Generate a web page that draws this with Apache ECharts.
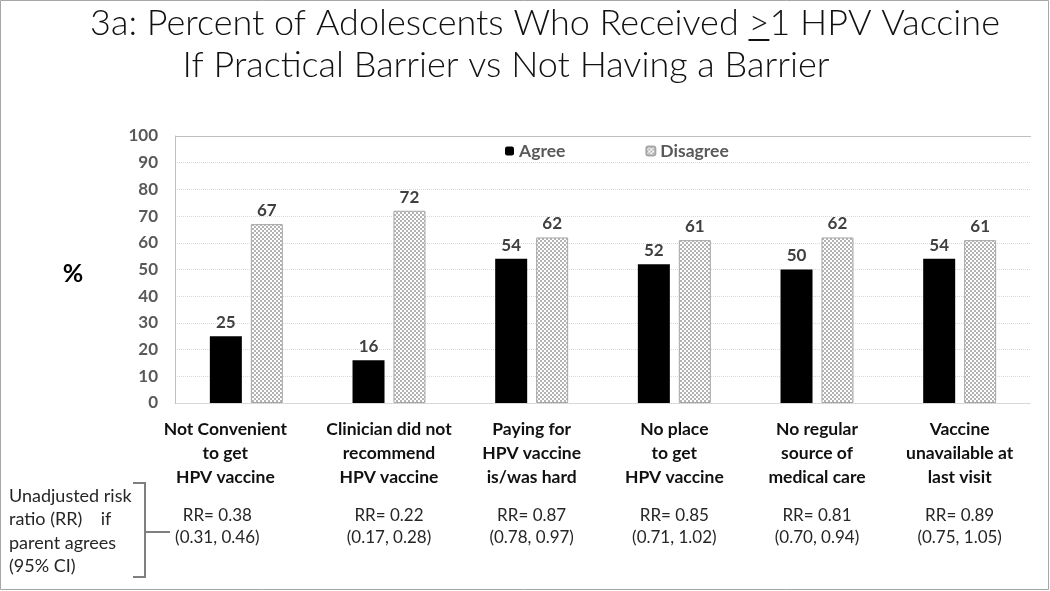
<!DOCTYPE html>
<html><head><meta charset="utf-8">
<script src="https://cdn.jsdelivr.net/npm/echarts@6/dist/echarts.min.js"></script>
<style>html,body{margin:0;padding:0;background:#fff}#c{width:1050px;height:591px}</style>
</head><body><div id="c"></div>
<script>
const categories = [
  'Not Convenient\nto get\nHPV vaccine',
  'Clinician did not\nrecommend\nHPV vaccine',
  'Paying for\nHPV vaccine\nis/was hard',
  'No place\nto get\nHPV vaccine',
  'No regular\nsource of\nmedical care',
  'Vaccine\nunavailable at\nlast visit'
];
const agree = [25, 16, 54, 52, 50, 54];
const disagree = [67, 72, 62, 61, 62, 61];
const rrLabels = ['RR= 0.38', 'RR= 0.22', 'RR= 0.87', 'RR= 0.85', 'RR= 0.81', 'RR= 0.89'];
const ciLabels = ['(0.31, 0.46)', '(0.17, 0.28)', '(0.78, 0.97)', '(0.71, 1.02)', '(0.70, 0.94)', '(0.75, 1.05)'];
const yTicks = {min: 0, max: 100, interval: 10};
const titlePre = '3a: Percent of Adolescents Who Received ';
const titleGe = '>';
const titlePost = '1 HPV Vaccine';
const titleLine2 = 'If Practical Barrier vs Not Having a Barrier';
const sideNote = 'Unadjusted risk\nratio (RR)    if\nparent agrees\n(95% CI)';

const FONT = 'Lato, "Open Sans", sans-serif';
const TITLE_FONT = '300 36px Lato';

// checkered fill for the Disagree bars
const pc = document.createElement('canvas');
pc.width = 4; pc.height = 4;
const px = pc.getContext('2d');
px.fillStyle = '#ffffff'; px.fillRect(0, 0, 4, 4);
px.fillStyle = '#b3b3b3'; px.fillRect(0, 0, 2, 2); px.fillRect(2, 2, 2, 2);
const pattern = {image: pc, repeat: 'repeat'};

// measure title to place the underline of ">" (i.e. "≥")
const mc = document.createElement('canvas').getContext('2d');
mc.font = TITLE_FONT;
const titleLine1 = titlePre + titleGe + titlePost;
const t1W = mc.measureText(titleLine1).width;
const preW = mc.measureText(titlePre).width;
const geW = mc.measureText(titleGe).width;
const T1X = 545, T1Y = 23;

// per-category label nudges (first category's text box sits left of its bars)
const rich = {
  g: {fontSize: 10, lineHeight: 16},
  b: {fontFamily: FONT, fontSize: 17.5, fontWeight: 'bold', color: '#111', lineHeight: 24},
  n: {fontFamily: FONT, fontSize: 17, fontWeight: 'normal', color: '#262626', lineHeight: 22},
  b0: {fontFamily: FONT, fontSize: 17.5, fontWeight: 'bold', color: '#111', lineHeight: 24, padding: [0, 42, 0, 0]},
  n0: {fontFamily: FONT, fontSize: 17, fontWeight: 'normal', color: '#262626', lineHeight: 22, padding: [0, 58, 0, 0]}
};

const chart = echarts.init(document.getElementById('c'));
chart.setOption({
  animation: false,
  textStyle: {fontFamily: FONT},
  grid: {left: 175, right: 19, top: 136, bottom: 188, containLabel: false},
  legend: {
    left: 500, top: 137, itemWidth: 9, itemHeight: 9, itemGap: 80,
    textStyle: {fontFamily: FONT, fontSize: 17.5, fontWeight: 'bold', color: '#595959'},
    data: ['Agree', 'Disagree']
  },
  xAxis: {
    type: 'category', data: categories,
    axisLine: {show: true, lineStyle: {color: '#d0d0d0', type: 'dotted'}},
    axisTick: {show: false},
    axisLabel: {
      interval: 0, margin: 14, color: '#111',
      formatter: function (v, i) {
        const bs = i === 0 ? 'b0' : 'b';
        const ns = i === 0 ? 'n0' : 'n';
        const lines = v.split('\n').map(s => '{' + bs + '|' + s + '}');
        return lines.join('\n') + '\n{g| }\n{' + ns + '|' + rrLabels[i] + '}\n{' + ns + '|' + ciLabels[i] + '}';
      },
      rich: rich
    }
  },
  yAxis: {
    type: 'value', min: yTicks.min, max: yTicks.max, interval: yTicks.interval,
    axisLine: {show: true, lineStyle: {color: '#bfbfbf'}},
    axisTick: {show: false},
    axisLabel: {margin: 17, fontFamily: FONT, fontSize: 17, fontWeight: 'bold', color: '#595959'},
    splitLine: {show: true, lineStyle: {color: '#d9d9d9', type: 'dotted'}}
  },
  series: [
    {
      name: 'Agree', type: 'bar', data: agree, barWidth: 32, barGap: '28%',
      itemStyle: {color: '#000'},
      label: {show: true, position: 'top', distance: 5, fontFamily: FONT, fontSize: 17, fontWeight: 'bold', color: '#404040'},
      markLine: {
        silent: true, symbol: 'none', label: {show: false},
        lineStyle: {color: '#bfbfbf', type: 'solid', width: 1},
        data: [{yAxis: yTicks.max}]
      }
    },
    {
      name: 'Disagree', type: 'bar', data: disagree, barWidth: 32,
      itemStyle: {color: pattern, borderColor: '#a6a6a6', borderWidth: 1},
      label: {show: true, position: 'top', distance: 5, fontFamily: FONT, fontSize: 17, fontWeight: 'bold', color: '#404040'}
    }
  ],
  graphic: [
    {type: 'rect', shape: {x: 0.5, y: 0.5, width: 1048, height: 589}, style: {fill: 'none', stroke: '#a6a6a6', lineWidth: 1}},
    {type: 'text', x: T1X, y: T1Y, style: {text: titleLine1, align: 'center', verticalAlign: 'middle', font: TITLE_FONT, fill: '#111'}},
    {type: 'line', shape: {x1: T1X - t1W / 2 + preW, y1: T1Y + 17, x2: T1X - t1W / 2 + preW + geW, y2: T1Y + 17}, style: {stroke: '#111', lineWidth: 2}},
    {type: 'text', x: 506, y: 65, style: {text: titleLine2, align: 'center', verticalAlign: 'middle', font: TITLE_FONT, fill: '#111'}},
    {type: 'text', x: 73, y: 274, style: {text: '%', align: 'center', verticalAlign: 'middle', fontFamily: FONT, fontWeight: 'bold', fontSize: 25, fill: '#000'}},
    {type: 'text', x: 9, y: 484, style: {text: sideNote, align: 'left', verticalAlign: 'top', fontFamily: FONT, fontSize: 18, lineHeight: 23.5, fill: '#262626'}},
    {type: 'polyline', shape: {points: [[133, 483], [145, 483], [145, 577], [133, 577]]}, style: {stroke: '#7f7f7f', lineWidth: 2, fill: 'none'}},
    {type: 'line', shape: {x1: 145, y1: 532, x2: 170, y2: 532}, style: {stroke: '#7f7f7f', lineWidth: 2}}
  ]
});
</script></body></html>
